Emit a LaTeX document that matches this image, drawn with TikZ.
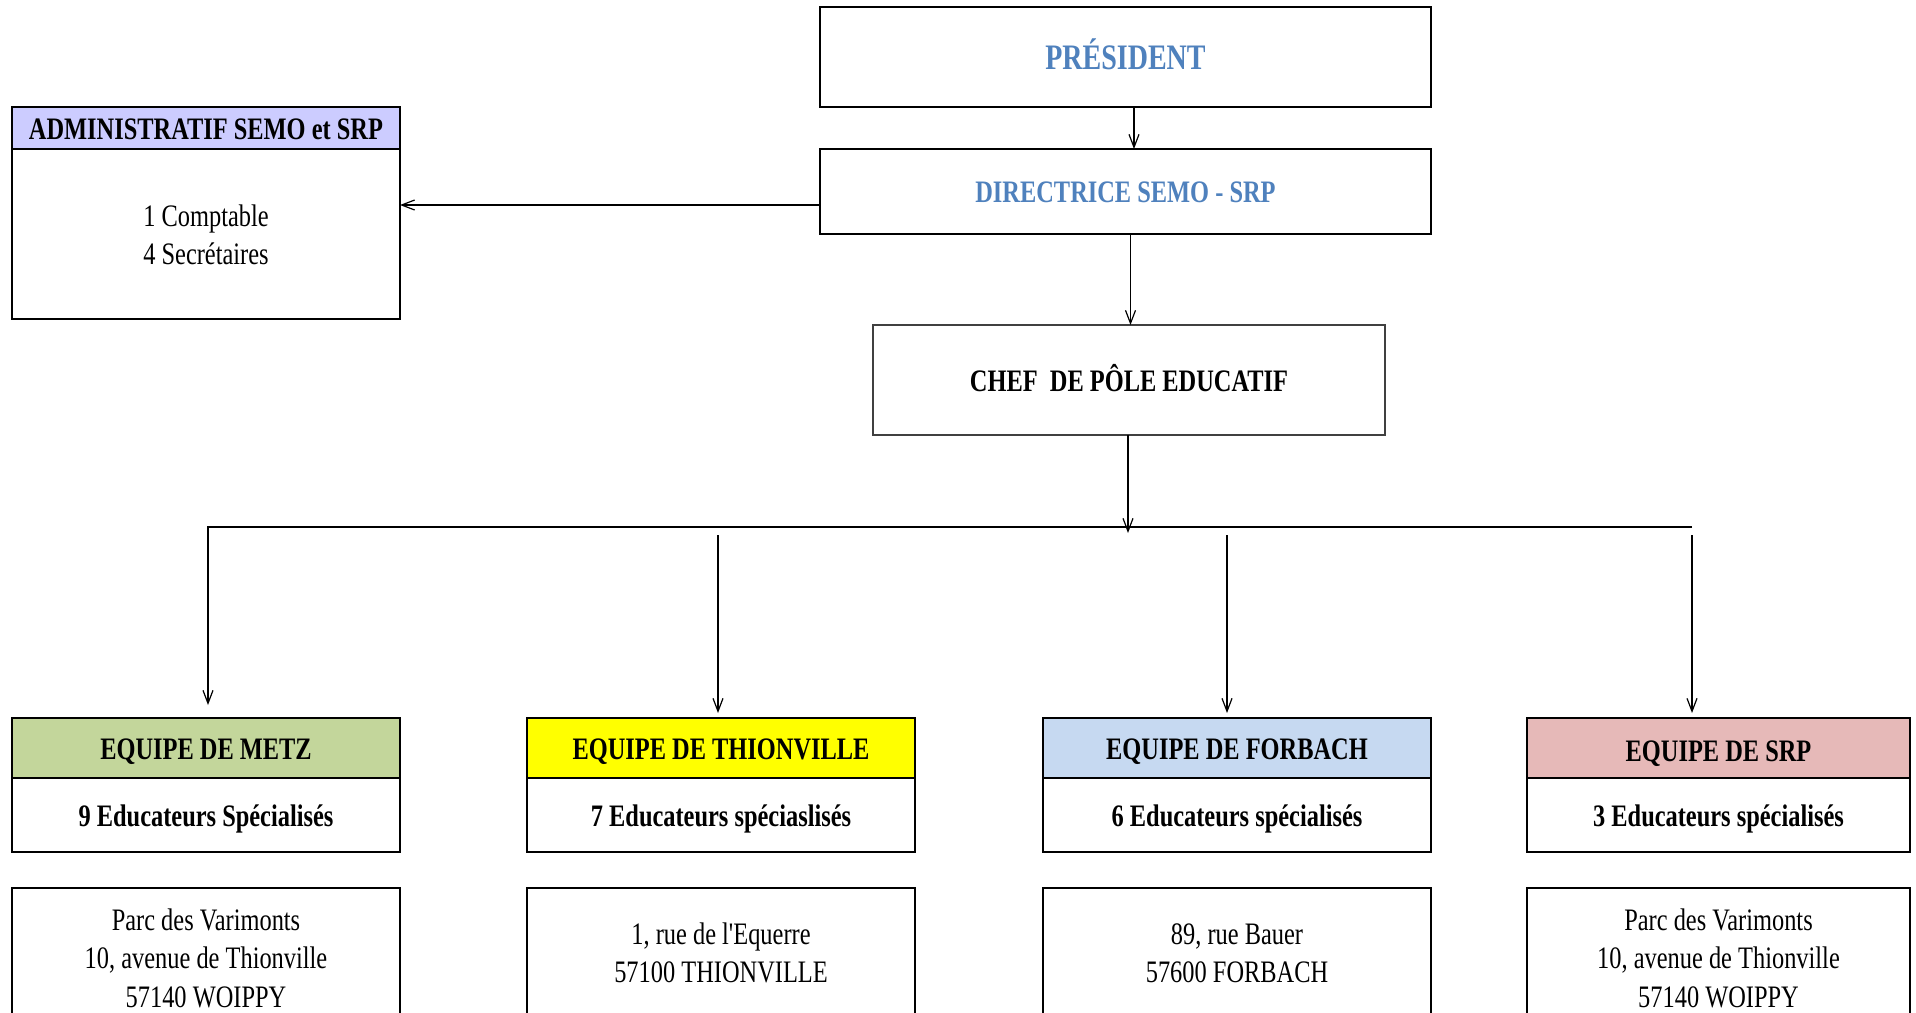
\documentclass[tikz,border=0pt]{standalone}
\usepackage{fontspec}
\setmainfont{Liberation Serif}
\usepackage{graphicx}
\usetikzlibrary{arrows.meta}
\definecolor{blueT}{HTML}{4F81BD}
\definecolor{lavC}{HTML}{CCCCFF}
\definecolor{metzC}{HTML}{C3D69B}
\definecolor{thionC}{HTML}{FFFF00}
\definecolor{forbC}{HTML}{C6D9F1}
\definecolor{srpC}{HTML}{E6B9B8}
\newcommand\vs[1]{\raisebox{-1.8pt}[\height][\depth]{\scalebox{1}[1.28]{\begin{tabular}{@{}c@{}}#1\end{tabular}}}}
\begin{document}
\begin{tikzpicture}[x=0.5pt,y=-0.5pt,
  box/.style={draw, line width=1pt, inner sep=0pt, outer sep=0pt},
  thinbox/.style={draw=black!75, line width=0.6pt, inner sep=0pt, outer sep=0pt},
  bf/.style={font=\fontsize{12.2pt}{15pt}\selectfont\bfseries},
  rm/.style={font=\fontsize{12.2pt}{15pt}\selectfont},
  wide/.style={minimum width=194pt},
  hdr/.style={box, wide, minimum height=30pt, bf},
  bdy/.style={box, wide, minimum height=37pt, bf},
  addr/.style={box, wide, minimum height=76pt},
  txt/.style={inner sep=0pt, rm},
  arr/.style={-{Straight Barb[length=6.5pt,width=5pt]}, line width=0.6pt},
  ln/.style={line width=0.6pt}]
\useasboundingbox (0,0) rectangle (1916,1012);
\clip (0,0) rectangle (1916,1012);
\fill[white] (0,0) rectangle (1916,1012);

% top chain
\node[box, minimum width=305.5pt, minimum height=50pt, text=blueT,
  font=\fontsize{14pt}{17pt}\selectfont\bfseries] (pres) at (1125.5,57) {\vs{PRÉSIDENT}};
\node[box, minimum width=305.5pt, minimum height=42.5pt, text=blueT, bf] (dir) at (1125.5,191.5) {\vs{DIRECTRICE SEMO - SRP}};
\node[thinbox, minimum width=256pt, minimum height=55pt, bf] (chef) at (1129,380) {\vs{CHEF\ \ DE PÔLE EDUCATIF}};

% administratif
\node[box, wide, minimum height=21pt, fill=lavC, bf] (admH) at (206,128) {\vs{ADMINISTRATIF SEMO et SRP}};
\node[box, wide, minimum height=85pt, rm] (admB) at (206,234) {\vs{1 Comptable\\4 Secrétaires}};

% teams
\node[hdr, fill=metzC] (metzH) at (206,748) {\vs{EQUIPE DE METZ}};
\node[bdy] (metzB) at (206,815) {\vs{9 Educateurs Spécialisés}};
\node[hdr, fill=thionC] (thionH) at (721,748) {\vs{EQUIPE DE THIONVILLE}};
\node[bdy] (thionB) at (721,815) {\vs{7 Educateurs spéciaslisés}};
\node[hdr, fill=forbC] (forbH) at (1237,748) {\vs{EQUIPE DE FORBACH}};
\node[bdy] (forbB) at (1237,815) {\vs{6 Educateurs spécialisés}};
\node[hdr, fill=srpC, minimum width=191.5pt] (srpH) at (1718.5,748) {};
\node[bf, inner sep=0pt] (srpHt) at (1718.5,750.5) {\vs{EQUIPE DE SRP}};
\node[bdy, minimum width=191.5pt] (srpB) at (1718.5,815) {\vs{3 Educateurs spécialisés}};

% addresses
\node[addr] (metzA) at (206,964) {};
\node[txt] (metzAt) at (206,957.5) {\vs{Parc des Varimonts\\10, avenue de Thionville\\57140 WOIPPY}};
\node[addr] (thionA) at (721,964) {};
\node[txt] (thionAt) at (721,952.5) {\vs{1, rue de l\textquotesingle Equerre\\57100 THIONVILLE}};
\node[addr] (forbA) at (1237,964) {};
\node[txt] (forbAt) at (1237,952.5) {\vs{89, rue Bauer\\57600 FORBACH}};
\node[addr, minimum width=191.5pt] (srpA) at (1718.5,964) {};
\node[txt] (srpAt) at (1718.5,957.5) {\vs{Parc des Varimonts\\10, avenue de Thionville\\57140 WOIPPY}};

% connectors
\draw[arr] ([xshift=4.25pt]pres.south) -- ([xshift=4.25pt]pres.south |- dir.north);
\draw[arr] ([xshift=2.5pt]dir.south) -- ([xshift=2.5pt]dir.south |- chef.north);
\draw[arr] ([yshift=-6.75pt]dir.west) -- ([yshift=-6.75pt]dir.west -| admB.east);

\coordinate (chefbus) at (1128,533);
\coordinate (busL) at (208,527);
\coordinate (busR) at (1692,527);
\coordinate (tS) at (718,535);
\coordinate (fS) at (1227,535);
\coordinate (sS) at (1692,535);
\draw[arr] (chef.south -| chefbus) -- (chefbus);
\draw[arr, shorten >=6.5pt] (busR) -- (busL) -- (busL |- metzH.north);
\draw[arr, shorten >=2.5pt] (tS) -- (tS |- thionH.north);
\draw[arr, shorten >=2.5pt] (fS) -- (fS |- forbH.north);
\draw[arr, shorten >=2.5pt] (sS) -- (sS |- srpH.north);
\end{tikzpicture}
\end{document}
